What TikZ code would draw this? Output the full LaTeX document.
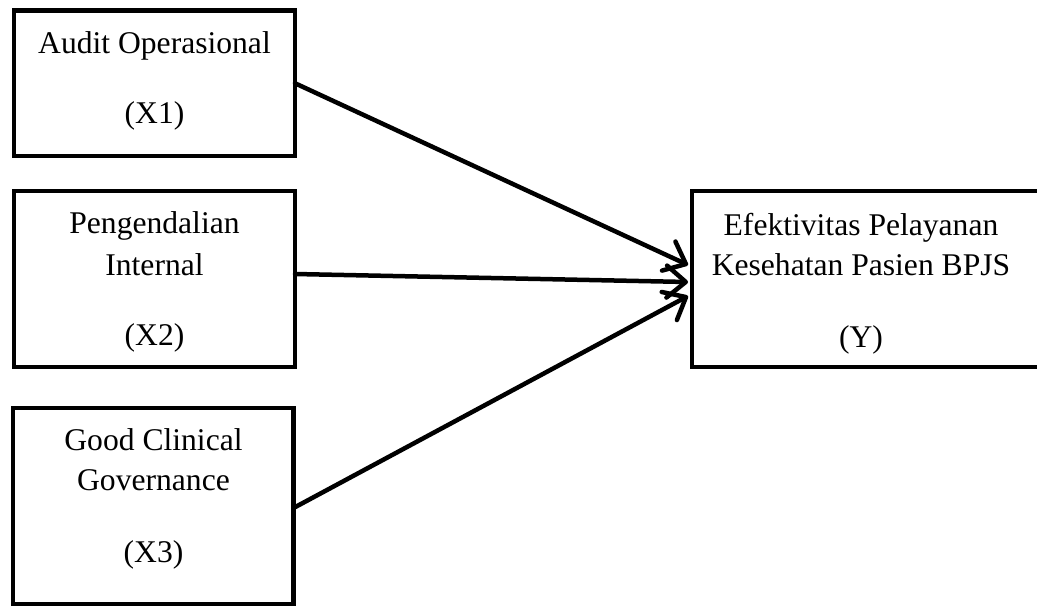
\documentclass[tikz,border=0pt]{standalone}
\usepackage{fontspec}
\setmainfont{Liberation Serif}
\usetikzlibrary{arrows.meta}
\tikzset{
  box/.style={draw=black, line width=4.5pt, inner sep=0pt, outer sep=0pt, fill=white},
  lbl/.style={font=\fontsize{31.6}{40}\selectfont, anchor=base, inner sep=0pt},
  link/.style={line width=4.5pt, line cap=round, -{Straight Barb[length=19pt, width=32pt, line width=4.5pt, round]}},
}
\begin{document}
\begin{tikzpicture}[x=1pt, y=-1pt]
\useasboundingbox (0,0) rectangle (1037,606);
% boxes
\node[box, minimum width=281pt, minimum height=145.5pt] (x1) at (154.5,83.25) {};
\node[box, minimum width=281pt, minimum height=176pt] (x2) at (154.5,279) {};
\node[box, minimum width=280.5pt, minimum height=196pt] (x3) at (153.25,506) {};
\node[box, minimum width=348pt, minimum height=176pt] (y) at (866,279) {};
% texts
\node[lbl] (x1a) at (154.5,53) {Audit Operasional};
\node[lbl] (x1b) at (154.5,123) {(X1)};
\node[lbl] (x2a) at (154.5,233) {Pengendalian};
\node[lbl] (x2b) at (154.5,275) {Internal};
\node[lbl] (x2c) at (154.5,345) {(X2)};
\node[lbl] (x3a) at (153.5,450) {Good Clinical};
\node[lbl] (x3b) at (153.5,490) {Governance};
\node[lbl] (x3c) at (153.5,562) {(X3)};
\node[lbl] (ya) at (861,235) {Efektivitas Pelayanan};
\node[lbl] (yb) at (861,275) {Kesehatan Pasien BPJS};
\node[lbl] (yc) at (861,347) {(Y)};
% arrow targets on the left side of y
\coordinate (t1) at (688,265);
\coordinate (t2) at (688,282);
\coordinate (t3) at (688,296);
% connectors
\draw[link] (x1.east) -- (t1);
\draw[link] ([yshift=5pt]x2.east) -- (t2);
\draw[link] ([yshift=-2pt]x3.east) -- (t3);
\end{tikzpicture}
\end{document}
